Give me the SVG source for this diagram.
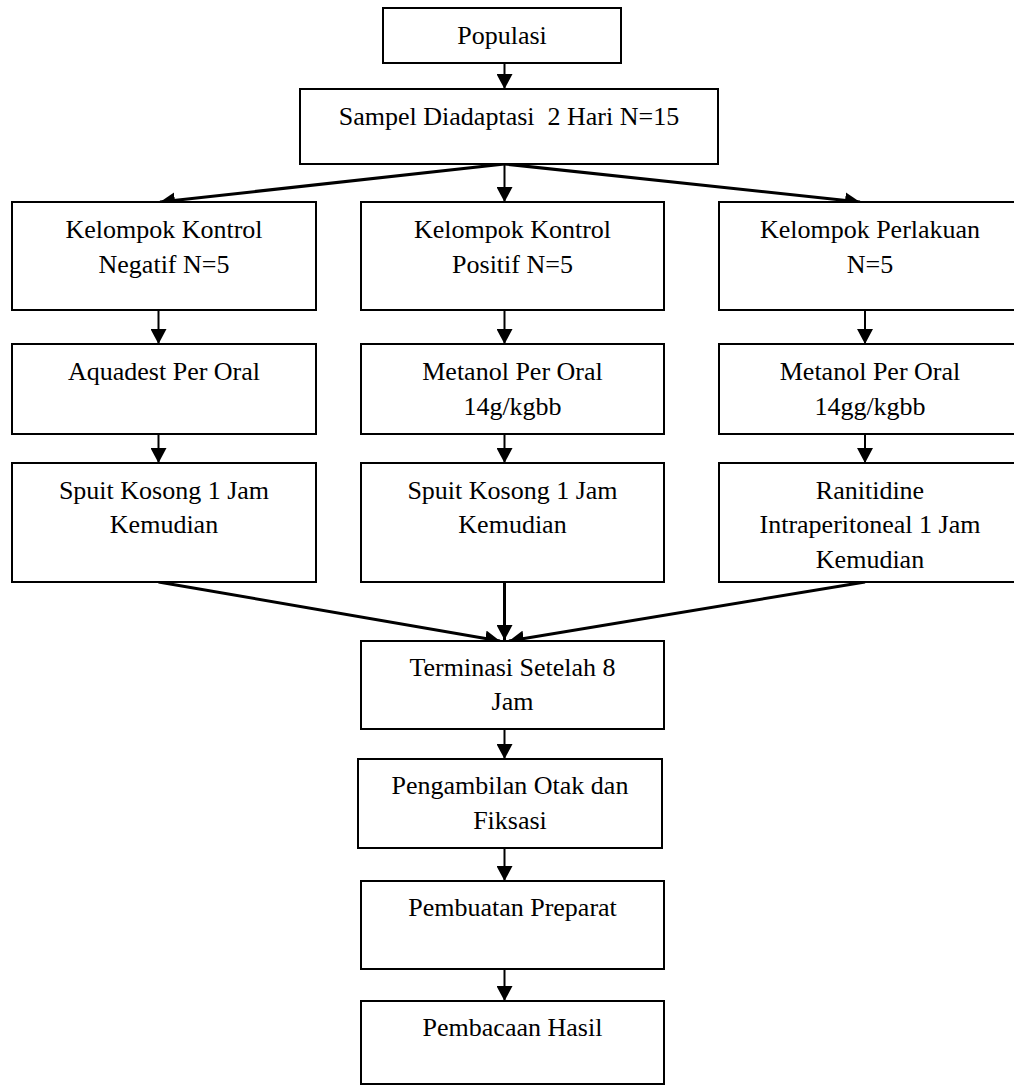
<svg xmlns="http://www.w3.org/2000/svg" width="1014" height="1086" viewBox="0 0 1014 1086">
<style>
.box{fill:#fff;stroke:#000;stroke-width:2}
.t{font-family:"Liberation Serif","Times New Roman",serif;font-size:26px;fill:#000;text-anchor:middle}
.c{stroke:#000;stroke-width:2;fill:none;marker-end:url(#ah)}
.d{stroke:#000;stroke-width:3;fill:none;marker-end:url(#ah)}
</style>
<defs>
<marker id="ah" markerUnits="userSpaceOnUse" markerWidth="16" markerHeight="16" refX="15" refY="8" orient="auto">
<path d="M0,0 L15,8 L0,16 z" fill="#000"/>
</marker>
</defs>
<rect width="1014" height="1086" fill="#fff"/>
<g id="connectors">
<line class="c" x1="504.5" y1="63" x2="504.5" y2="89"/>
<line class="d" x1="504.5" y1="164" x2="160" y2="202"/>
<line class="c" x1="504.5" y1="164" x2="504.5" y2="202"/>
<line class="d" x1="504.5" y1="164" x2="860" y2="202"/>
<line class="c" x1="158.5" y1="310" x2="158.5" y2="344"/>
<line class="c" x1="504.5" y1="310" x2="504.5" y2="344"/>
<line class="c" x1="865" y1="310" x2="865" y2="344"/>
<line class="c" x1="158.5" y1="434" x2="158.5" y2="463"/>
<line class="c" x1="504.5" y1="434" x2="504.5" y2="463"/>
<line class="c" x1="865" y1="434" x2="865" y2="463"/>
<line class="d" x1="158.5" y1="582" x2="500" y2="641"/>
<line class="d" x1="504.5" y1="582" x2="504.5" y2="640"/>
<line class="d" x1="865" y1="582" x2="509" y2="641"/>
<line class="c" x1="504.5" y1="729" x2="504.5" y2="759"/>
<line class="c" x1="504.5" y1="848" x2="504.5" y2="881"/>
<line class="c" x1="504.5" y1="969" x2="504.5" y2="1001"/>
</g>
<g id="populasi"><rect class="box" x="383" y="8" width="238" height="55"/><text class="t" x="502" y="44">Populasi</text></g>
<g id="sampel"><rect class="box" x="300" y="89" width="418" height="75"/><text class="t" x="509" y="125" xml:space="preserve">Sampel Diadaptasi  2 Hari N=15</text></g>
<g id="k-negatif"><rect class="box" x="12" y="202" width="304" height="108"/><text class="t" x="164" y="238">Kelompok Kontrol</text><text class="t" x="164" y="273">Negatif N=5</text></g>
<g id="k-positif"><rect class="box" x="361" y="202" width="303" height="108"/><text class="t" x="512.5" y="238">Kelompok Kontrol</text><text class="t" x="512.5" y="273">Positif N=5</text></g>
<g id="k-perlakuan"><rect class="box" x="719" y="202" width="302" height="108"/><text class="t" x="870" y="238">Kelompok Perlakuan</text><text class="t" x="870" y="273">N=5</text></g>
<g id="aquadest"><rect class="box" x="12" y="344" width="304" height="90"/><text class="t" x="164" y="380">Aquadest Per Oral</text></g>
<g id="metanol-pos"><rect class="box" x="361" y="344" width="303" height="90"/><text class="t" x="512.5" y="380">Metanol Per Oral</text><text class="t" x="512.5" y="415">14g/kgbb</text></g>
<g id="metanol-perl"><rect class="box" x="719" y="344" width="302" height="90"/><text class="t" x="870" y="380">Metanol Per Oral</text><text class="t" x="870" y="415">14gg/kgbb</text></g>
<g id="spuit-neg"><rect class="box" x="12" y="463" width="304" height="119"/><text class="t" x="164" y="499">Spuit Kosong 1 Jam</text><text class="t" x="164" y="533">Kemudian</text></g>
<g id="spuit-pos"><rect class="box" x="361" y="463" width="303" height="119"/><text class="t" x="512.5" y="499">Spuit Kosong 1 Jam</text><text class="t" x="512.5" y="533">Kemudian</text></g>
<g id="ranitidine"><rect class="box" x="719" y="463" width="302" height="119"/><text class="t" x="870" y="499">Ranitidine</text><text class="t" x="870" y="533">Intraperitoneal 1 Jam</text><text class="t" x="870" y="568">Kemudian</text></g>
<g id="terminasi"><rect class="box" x="361" y="641" width="303" height="88"/><text class="t" x="512.5" y="676">Terminasi Setelah 8</text><text class="t" x="512.5" y="710">Jam</text></g>
<g id="pengambilan"><rect class="box" x="358" y="759" width="304" height="89"/><text class="t" x="510" y="794">Pengambilan Otak dan</text><text class="t" x="510" y="829">Fiksasi</text></g>
<g id="pembuatan"><rect class="box" x="361" y="881" width="303" height="88"/><text class="t" x="512.5" y="916">Pembuatan Preparat</text></g>
<g id="pembacaan"><rect class="box" x="361" y="1001" width="303" height="83"/><text class="t" x="512.5" y="1036">Pembacaan Hasil</text></g>
</svg>
